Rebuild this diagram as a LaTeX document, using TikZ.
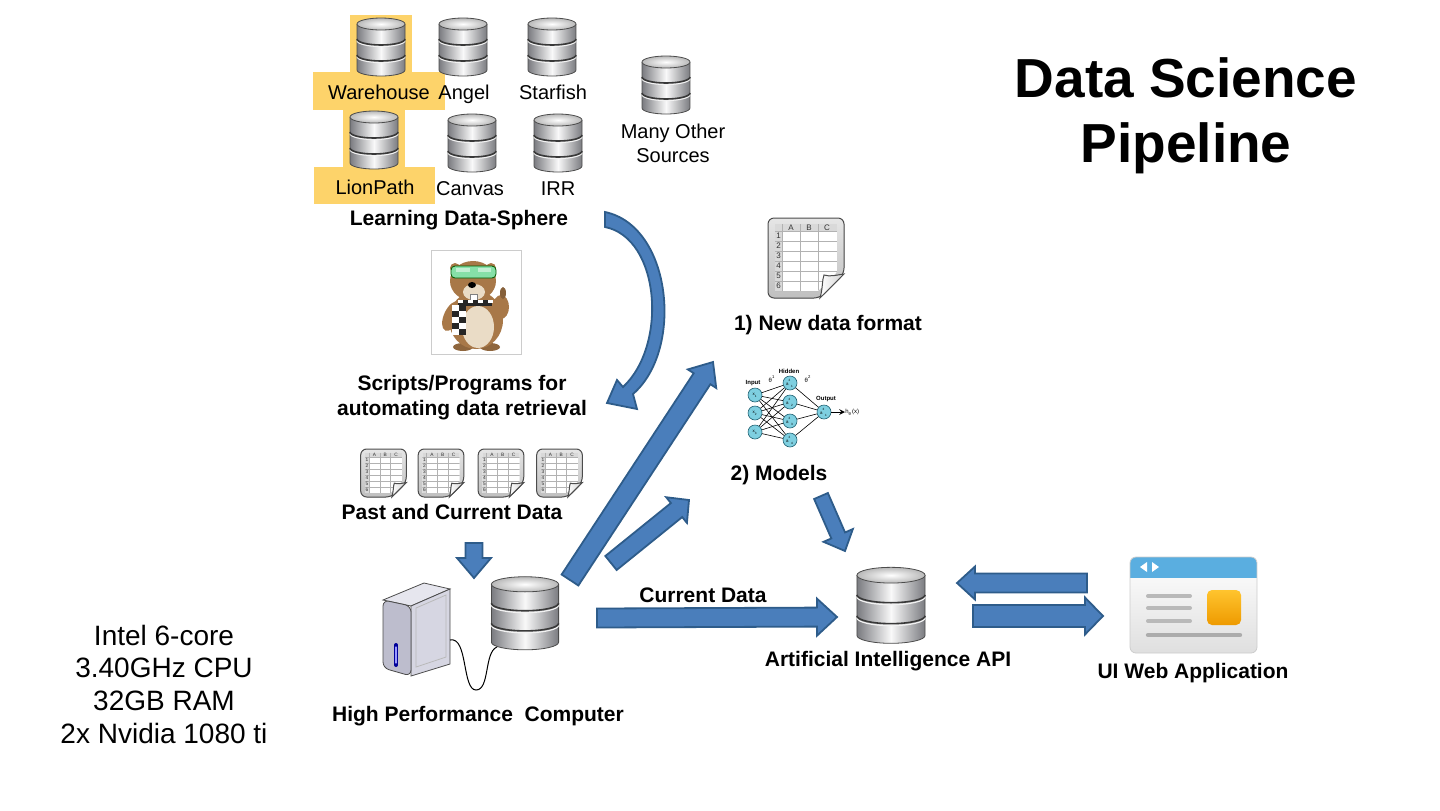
\documentclass[tikz,border=0pt]{standalone}
\usepackage{fontspec}
\setmainfont{Liberation Sans}
\usetikzlibrary{calc}
\definecolor{arrfill}{HTML}{4A7EBB}
\definecolor{arrline}{HTML}{2E5C8A}
\definecolor{hilite}{HTML}{FDD36A}
\definecolor{dbdark}{HTML}{7A7B80}
\definecolor{neufill}{HTML}{7ECFE0}
\definecolor{neuline}{HTML}{1F5F70}
\definecolor{webblue}{HTML}{5AAEE0}
\definecolor{orangeA}{HTML}{FFC42E}
\definecolor{orangeB}{HTML}{EE9A00}
\definecolor{fur}{HTML}{A87848}
\definecolor{belly}{HTML}{EADCC6}
\definecolor{goggle}{HTML}{86E0A8}
\definecolor{towerA}{HTML}{D6D6E2}
\definecolor{towerB}{HTML}{BDBDCD}
\newcommand\blockarrow[5]{%
  \coordinate (hb) at ($(#2)!#5!(#1)$);
  \filldraw[blockarr] ($(#1)!#3!90:(#2)$) -- ($(hb)!#3!90:(#2)$) -- ($(hb)!#4!90:(#2)$) -- (#2)
    -- ($(hb)!#4!-90:(#2)$) -- ($(hb)!#3!-90:(#2)$) -- ($(#1)!#3!-90:(#2)$) -- cycle;}
\begin{document}
\begin{tikzpicture}[x=0.5pt, y=-0.5pt]
\tikzset{
  lbl/.style={font=\fontsize{10}{12}\selectfont, anchor=base, inner sep=0pt},
  blbl/.style={font=\bfseries\fontsize{10.5}{12.5}\selectfont, anchor=base, inner sep=0pt},
  ttl/.style={font=\bfseries\fontsize{27.5}{33}\selectfont, anchor=base, inner sep=0pt},
  spec/.style={font=\fontsize{14}{16.5}\selectfont, anchor=base, inner sep=0pt},
  blockarr/.style={fill=arrfill, draw=arrline, line width=0.9pt, line join=miter},
  hibox/.style={fill=hilite},
  neuron/.style={circle, draw=neuline, fill=neufill, line width=0.3pt, minimum size=7pt, inner sep=0pt, font=\fontsize{2.2}{2.5}\selectfont},
  nnedge/.style={line width=0.3pt, black},
  nntxt/.style={font=\fontsize{3}{3.5}\selectfont, inner sep=0pt},
  sheettxt/.style={font=\fontsize{4}{4}\selectfont, inner sep=0pt, transform shape, text=gray!40!black},
  dbicon/.pic={
    \shade[left color=dbdark, right color=dbdark, middle color=white!95!gray] (-24,-22) -- (-24,24)
      arc[start angle=180, end angle=0, x radius=24, y radius=6] -- (24,-22) -- cycle;
    \draw[gray!60!black, line width=0.4pt] (-24,-22) -- (-24,24) arc[start angle=180, end angle=0, x radius=24, y radius=6] -- (24,-22);
    \foreach \yy in {-7,9} {
      \draw[white!90!gray, line width=0.6pt] (-24,\yy+1.5) arc[start angle=180, end angle=0, x radius=24, y radius=6];
      \draw[gray!45!black, line width=0.8pt] (-24,\yy) arc[start angle=180, end angle=0, x radius=24, y radius=6];
    }
    \shade[inner color=white, outer color=gray!55, draw=gray!60!black, line width=0.4pt] (0,-22) ellipse[x radius=24, y radius=6];
  },
  sheeticon/.pic={
    \filldraw[draw=gray!60!black, line width=0.5pt, top color=gray!20, bottom color=gray!50, rounded corners=3pt]
      (-38,-40) -- (38,-40) -- (38,16) -- (14,40) -- (-38,40) -- cycle;
    \begin{scope}
      \clip (-31,-34) -- (31,-34) -- (31,14) -- (12,33) -- (-31,33) -- cycle;
      \fill[white] (-31,-34) rectangle (31,33);
      \fill[gray!30] (-31,-34) rectangle (31,-27);
      \fill[gray!30] (-31,-27) rectangle (-24,33);
      \foreach \yy in {-27,-17,...,33} \draw[gray!60, line width=0.3pt] (-31,\yy) -- (31,\yy);
      \foreach \xx in {-24,-6,12} \draw[gray!60, line width=0.3pt] (\xx,-34) -- (\xx,33);
    \end{scope}
    \foreach \c [count=\k] in {A,B,C} \node[sheettxt] at (-33+18*\k,-30.5) {\c};
    \foreach \r in {1,...,6} \node[sheettxt] at (-27.5,-32+10*\r) {\r};
    \filldraw[draw=gray!60!black, line width=0.5pt, left color=white, right color=gray!35]
      (14,40) .. controls (17,30) and (16,22) .. (18,17) .. controls (24,19) and (31,17) .. (38,16) -- cycle;
  }
}
\useasboundingbox (0,0) rectangle (1440,810);

\fill[hibox] (350,15) rectangle (412,77);
\fill[hibox] (313,72) rectangle (445,110);
\fill[hibox] (343,110) rectangle (405,168);
\fill[hibox] (314,167) rectangle (435,204);

\pic (dbWH) at (381,46) {dbicon};
\pic (dbAN) at (463,46) {dbicon};
\pic (dbSF) at (552,46) {dbicon};
\pic (dbMO) at (666,84) {dbicon};
\pic (dbLP) at (374,139) {dbicon};
\pic (dbCV) at (472,142) {dbicon};
\pic (dbIR) at (558,142) {dbicon};

\node[lbl] (Lwh) at (379,99) {Warehouse};
\node[lbl] (Lan) at (464,99) {Angel};
\node[lbl] (Lsf) at (553,99) {Starfish};
\node[lbl] (Lmo1) at (673,138) {Many Other};
\node[lbl] (Lmo2) at (673,162) {Sources};
\node[lbl] (Llp) at (375,194) {LionPath};
\node[lbl] (Lcv) at (470,195) {Canvas};
\node[lbl] (Lir) at (558,195) {IRR};
\node[blbl] (Lsph) at (459,225) {Learning Data-Sphere};

\node[ttl] (T1) at (1186,97) {Data Science};
\node[ttl] (T2) at (1186,162) {Pipeline};

\node[spec] (cpu1) at (164,645) {Intel 6-core};
\node[spec] (cpu2) at (164,677) {3.40GHz CPU};
\node[spec] (cpu3) at (164,710) {32GB RAM};
\node[spec] (cpu4) at (164,743) {2x Nvidia 1080 ti};

% mascot
\draw[gray!40, line width=0.5pt] (431,250) rectangle (521,354);
\fill[fur!85!black] (463,347) ellipse[x radius=10, y radius=4];
\fill[fur!85!black] (490,347) ellipse[x radius=10, y radius=4];
\fill[fur] (476,320) ellipse[x radius=27, y radius=29];
\fill[belly] (478,327) ellipse[x radius=16, y radius=21];
\fill[fur, rotate around={-25:(452,316)}] (452,316) ellipse[x radius=8, y radius=16];
\fill[fur] (501,307) ellipse[x radius=8, y radius=12];
\fill[fur!80!black] (503,293) ellipse[x radius=3, y radius=6];
\fill[fur] (455,268) circle[radius=5];
\fill[fur] (491,268) circle[radius=5];
\fill[fur] (473,281) ellipse[x radius=23, y radius=20];
\fill[belly] (474,292) ellipse[x radius=11, y radius=8];
\fill[black] (472,285) ellipse[x radius=4, y radius=3];
\filldraw[fill=white, draw=gray, line width=0.3pt] (470,294) rectangle (477,301);
\filldraw[fill=goggle, draw=green!35!black, line width=0.4pt, rounded corners=2pt] (451,266) rectangle (496,278);
\fill[white, opacity=0.5] (456,268) rectangle (470,272);
\fill[white, opacity=0.5] (478,268) rectangle (491,272);
\fill[black!85] (458,300) rectangle (492,306);
\foreach \i in {0,2,4,6} \fill[white] ({458+\i*5},300) rectangle +(5,3);
\fill[black!85] (452,305) rectangle (466,335);
\foreach \i in {0,1,2,3,4} \fill[white] ({452+7*mod(\i,2)},{305+6*\i}) rectangle +(7,6);

% computer
\filldraw[draw=gray!60!black, line width=0.4pt, fill=towerA!60!white] (383,600) -- (424,583) -- (450,589) -- (411,606) -- cycle;
\filldraw[draw=gray!60!black, line width=0.4pt, fill=towerA] (411,606) -- (450,589) -- (450,664) -- (411,676) -- cycle;
\filldraw[draw=gray!60!black, line width=0.4pt, fill=towerB, rounded corners=3pt] (383,600) -- (411,606) -- (411,676) -- (383,668) -- cycle;
\draw[gray!55, line width=0.4pt] (416,608) -- (446,595) -- (446,657) -- (416,667) -- cycle;
\draw[blue!60!black, line width=2pt, line cap=round] (396,645) -- (396,665);
\draw[blue!40!white, line width=0.6pt, line cap=round] (396,647) -- (396,663);
\draw[black, line width=0.5pt] (450,640) .. controls (468,636) and (462,690) .. (476,690) .. controls (490,690) and (484,652) .. (497,647);
\pic[xscale=1.4, yscale=1.26] (dbHPC) at (525,612) {dbicon};
\node[blbl] (Lhpc) at (478,721) {High Performance\ \ Computer};

% spreadsheets
\pic (shNew) at (806,258) {sheeticon};
\node[blbl] (Lfmt) at (828,330) {1) New data format};
\foreach \xx [count=\n] in {383.5,441,501,559.5} \pic[scale=0.6] (sh\n) at (\xx,473) {sheeticon};
\node[blbl] (Lpcd) at (452,519) {Past and Current Data};

\node[blbl] (Lscr1) at (462,390) {Scripts/Programs for};
\node[blbl] (Lscr2) at (462,415) {automating data retrieval};

% network
\foreach \i/\yy in {1/395,2/413,3/432} \node[neuron] (in\i) at (755,\yy) {x\textsubscript{\i}};
\foreach \j/\yy in {1/383,2/402,3/421,4/440} \node[neuron] (hd\j) at (790,\yy) {a\textsuperscript{2}\textsubscript{\j}};
\node[neuron] (out) at (824,412) {a\textsuperscript{3}\textsubscript{1}};
\foreach \i in {1,2,3} \foreach \j in {1,...,4} \draw[nnedge] (in\i) -- (hd\j);
\foreach \j in {1,...,4} \draw[nnedge] (hd\j) -- (out);
\node[nntxt, anchor=west] (hx) at (845,412) {h\textsubscript{θ}(x)};
\draw[nnedge, -stealth] (out) -- (hx);
\node[nntxt, font=\bfseries\fontsize{3}{3.5}\selectfont] (nin) at (753,383) {Input};
\node[nntxt, font=\bfseries\fontsize{3}{3.5}\selectfont] (nhd) at (789,371) {Hidden};
\node[nntxt, font=\bfseries\fontsize{3}{3.5}\selectfont] (nout) at (826,399) {Output};
\node[nntxt] (th1) at (772,379) {θ\textsuperscript{1}};
\node[nntxt] (th2) at (808,379) {θ\textsuperscript{2}};
\node[blbl] (Lmod) at (779,480) {2) Models};

% api
\pic[xscale=1.42, yscale=1.31] (dbAPI) at (891,604) {dbicon};
\node[blbl] (Lapi) at (888,666) {Artificial Intelligence API};

% web app
\begin{scope}
  \clip[rounded corners=3pt] (1130,557) rectangle (1257,653);
  \shade[top color=white, bottom color=gray!25] (1130,557) rectangle (1257,653);
  \fill[webblue] (1130,557) rectangle (1257,578);
\end{scope}
\draw[gray!40, line width=0.4pt, rounded corners=3pt] (1130,557) rectangle (1257,653);
\fill[white] (1140,567) -- (1147,562) -- (1147,572) -- cycle;
\fill[white] (1159,567) -- (1152,562) -- (1152,572) -- cycle;
\foreach \yy in {596,608,621} \draw[gray!55, line width=2pt, line cap=round] (1148,\yy) -- (1190,\yy);
\draw[gray!65, line width=2.2pt, line cap=round] (1148,635) -- (1240,635);
\shade[top color=orangeA, bottom color=orangeB, rounded corners=2.5pt] (1207,590) rectangle (1241,625);
\node[blbl] (Lweb) at (1193,678) {UI Web Application};
\node[blbl] (Lcur) at (703,602) {Current Data};

% arrows
\coordinate (sphTip) at (607,403);
\filldraw[blockarr] (605,212) .. controls (672,226) and (684,350) .. (633,394) -- (637,409) -- (sphTip)
  -- (617,380) -- (623,387) .. controls (668,345) and (660,238) .. (605,227) -- cycle;
\coordinate (hpcA) at (570,580);
\coordinate (fmtA) at (713,362);
\blockarrow{hpcA}{fmtA}{5pt}{8.5pt}{10pt}
\coordinate (hpcB) at (611,563);
\coordinate (modB) at (689,500);
\blockarrow{hpcB}{modB}{4.5pt}{8.25pt}{8pt}
\coordinate (hpcC) at (597,618);
\coordinate (apiC) at (837,617);
\blockarrow{hpcC}{apiC}{4.75pt}{9.25pt}{10pt}
\coordinate (modD) at (821,496);
\coordinate (apiD) at (845,551);
\blockarrow{modD}{apiD}{3.75pt}{8pt}{8.5pt}
\coordinate (pcdE) at (474,543);
\coordinate (hpcE) at (474,578);
\blockarrow{pcdE}{hpcE}{4.25pt}{8.5pt}{10pt}
\coordinate (webF) at (1087,583);
\coordinate (apiF) at (957,583);
\blockarrow{webF}{apiF}{4.75pt}{8.25pt}{9pt}
\coordinate (apiG) at (973,616);
\coordinate (webG) at (1103,616);
\blockarrow{apiG}{webG}{5.5pt}{9.25pt}{9pt}
\end{tikzpicture}
\end{document}
